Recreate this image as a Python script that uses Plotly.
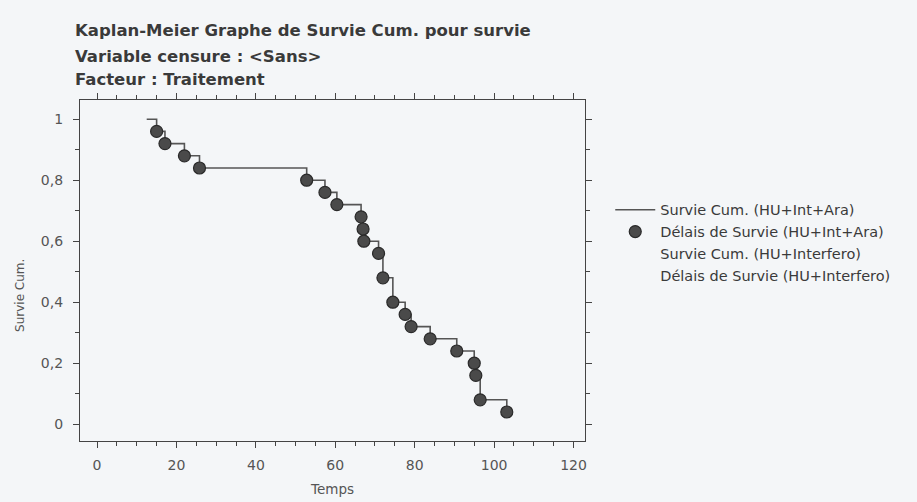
import plotly.graph_objects as go

# Data (group HU+Int+Ara)
start_time = 12.5
start_surv = 1.0
event_times = [15.0, 17.1, 22.0, 25.8, 52.8, 57.4, 60.4, 66.5, 67.0, 67.2, 70.9,
               72.0, 74.5, 77.6, 79.1, 83.9, 90.6, 95.0, 95.4, 96.5, 103.2]
event_surv = [0.96, 0.92, 0.88, 0.84, 0.80, 0.76, 0.72, 0.68, 0.64, 0.60, 0.56,
              0.48, 0.40, 0.36, 0.32, 0.28, 0.24, 0.20, 0.16, 0.08, 0.04]

legend_names = ["Survie Cum. (HU+Int+Ara)", "Délais de Survie (HU+Int+Ara)",
                "Survie Cum. (HU+Interfero)", "Délais de Survie (HU+Interfero)"]

x_ticks = [0, 20, 40, 60, 80, 100, 120]
y_ticks = [0, 0.2, 0.4, 0.6, 0.8, 1]
y_tick_labels = ["0", "0,2", "0,4", "0,6", "0,8", "1"]

title_lines = ["Kaplan-Meier Graphe de Survie Cum. pour survie",
               "Variable censure : <Sans>",
               "Facteur : Traitement"]

BG = "#f4f6f8"
INK = "#3a3a3a"
GREY = "#555555"
FONT = "DejaVu Sans"

fig = go.Figure()
fig.add_trace(go.Scatter(
    x=[start_time] + event_times, y=[start_surv] + event_surv,
    mode="lines", line=dict(color="#555555", width=1.6, shape="hv"),
    name=legend_names[0]))
fig.add_trace(go.Scatter(
    x=event_times, y=event_surv, mode="markers",
    marker=dict(size=12, color="#4a4a4a", line=dict(color="#2a2a2a", width=1.2)),
    name=legend_names[1]))
# second group: drawn in an invisible colour in the original
fig.add_trace(go.Scatter(
    x=[None], y=[None], mode="lines", line=dict(color="rgba(0,0,0,0)", width=1),
    name=legend_names[2], showlegend=True))
fig.add_trace(go.Scatter(
    x=[None], y=[None], mode="markers", marker=dict(size=10, color="rgba(0,0,0,0)"),
    name=legend_names[3], showlegend=True))

axis_common = dict(
    showgrid=False, zeroline=False, showline=True, linecolor="#444444", linewidth=1.3,
    mirror="ticks", ticks="outside", tickcolor="#444444", ticklen=6, tickwidth=1.2,
    automargin=False,
    tickfont=dict(family=FONT, size=14, color=GREY))

fig.update_xaxes(range=[-4.3, 122.9], tickvals=x_ticks, ticklabelstandoff=5,
                 minor=dict(dtick=5, ticklen=4, tickcolor="#444444", ticks="outside"),
                 title=dict(text="Temps", font=dict(family=FONT, size=13.5, color=GREY),
                            standoff=12),
                 **axis_common)
fig.update_yaxes(range=[-0.055, 1.063], tickvals=y_ticks, ticktext=y_tick_labels,
                 ticklabelstandoff=7,
                 minor=dict(dtick=0.1, ticklen=4, tickcolor="#444444", ticks="outside"),
                 **axis_common)

fig.add_annotation(text="Survie Cum.", xref="paper", yref="paper", x=-0.119, y=0.428,
                   xanchor="center", yanchor="middle",
                   textangle=-90, showarrow=False,
                   font=dict(family=FONT, size=12, color=GREY))

title_y = [31, 56, 79]
for line, ypx in zip(title_lines, title_y):
    fig.add_annotation(text=line, xref="paper", yref="paper",
                       x=(73 - 80) / 505, y=1 + (100 - ypx) / 341,
                       xanchor="left", yanchor="middle", showarrow=False,
                       font=dict(family=FONT, size=16.5, color=INK, weight="bold"))

fig.update_layout(
    width=917, height=502,
    margin=dict(l=80, r=332, t=100, b=61, autoexpand=False),
    paper_bgcolor=BG, plot_bgcolor=BG,
    separators=", ",
    legend=dict(x=1.05, xanchor="left", y=0.725, yanchor="top",
                font=dict(family=FONT, size=14.5, color=INK),
                bgcolor="rgba(0,0,0,0)", itemwidth=40, tracegroupgap=0),
    showlegend=True,
)

fig.write_html("out.html")
